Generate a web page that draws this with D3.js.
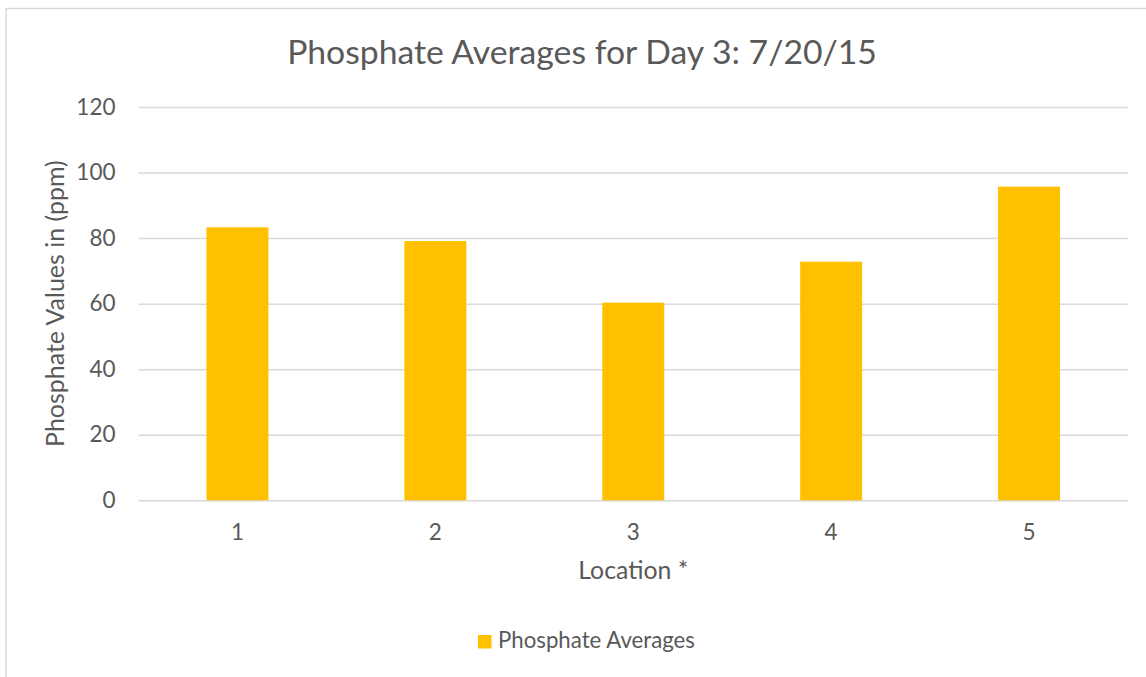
<!DOCTYPE html>
<html>
<head>
<meta charset="utf-8">
<script src="https://cdnjs.cloudflare.com/ajax/libs/d3/7.8.5/d3.min.js"></script>
<style>
  html, body { margin: 0; padding: 0; background: #ffffff; }
  svg { display: block; }
  text { font-family: Lato, "Open Sans", "Liberation Sans", sans-serif; fill: #595959; }
</style>
</head>
<body>
<svg id="chart" width="1146" height="677"></svg>
<script>
const categories = ["1", "2", "3", "4", "5"];
const values = [83.3, 79.1, 60.3, 72.8, 95.7];
const yTicks = [0, 20, 40, 60, 80, 100, 120];
const titleText = "Phosphate Averages for Day 3: 7/20/15";
const xTitle = "Location *";
const yTitle = "Phosphate Values in (ppm)";
const seriesName = "Phosphate Averages";

const W = 1146, H = 677;
const plot = { left: 138.5, right: 1128, top: 107, bottom: 500.3 };
const barColor = "#FFC000";
const gridColor = "#d9d9d9";

const svg = d3.select("#chart");

// outer chart border
svg.append("rect")
  .attr("x", 6).attr("y", 8.5)
  .attr("width", W + 20).attr("height", H + 20)
  .attr("fill", "#ffffff")
  .attr("stroke", gridColor).attr("stroke-width", 1.5);

const x = d3.scaleBand()
  .domain(categories)
  .range([plot.left, plot.right])
  .paddingInner(0.687)
  .paddingOuter(0.3435);

const y = d3.scaleLinear()
  .domain([0, 120])
  .range([plot.bottom, plot.top]);

// fit text to a target width
function fit(sel, targetWidth, startSize) {
  sel.attr("font-size", startSize);
  const w = sel.node().getComputedTextLength();
  sel.attr("font-size", startSize * targetWidth / w);
  return sel;
}

// gridlines via axis
const yAxis = d3.axisLeft(y)
  .tickValues(yTicks)
  .tickSize(-(plot.right - plot.left))
  .tickPadding(23)
  .tickFormat(d3.format("d"));

const gy = svg.append("g")
  .attr("transform", `translate(${plot.left},0)`)
  .call(yAxis);
gy.select(".domain").remove();
gy.selectAll(".tick line").attr("stroke", gridColor).attr("stroke-width", 1.5);
gy.selectAll(".tick text")
  .attr("font-size", 22.5)
  .attr("fill", "#595959")
  .style("font-family", "Lato, 'Open Sans', sans-serif");

// bars
svg.append("g").selectAll("rect")
  .data(values)
  .join("rect")
  .attr("x", (d, i) => x(categories[i]))
  .attr("width", x.bandwidth())
  .attr("y", d => y(d))
  .attr("height", d => y(0) - y(d))
  .attr("fill", barColor);

// x axis
const xAxis = d3.axisBottom(x).tickSize(0).tickPadding(24);
const gx = svg.append("g")
  .attr("transform", `translate(0,${plot.bottom})`)
  .call(xAxis);
gx.select(".domain").remove();
gx.selectAll(".tick text")
  .attr("font-size", 22.5)
  .attr("fill", "#595959")
  .style("font-family", "Lato, 'Open Sans', sans-serif");

// title
const t = svg.append("text")
  .attr("x", 582).attr("y", 64)
  .attr("text-anchor", "middle")
  .text(titleText);
fit(t, 590, 34);

// x axis title
const xt = svg.append("text")
  .attr("x", (plot.left + plot.right) / 2).attr("y", 579)
  .attr("text-anchor", "middle")
  .text(xTitle);
fit(xt, 110, 25);

// y axis title
const yt = svg.append("text")
  .attr("transform", `translate(64,${(plot.top + plot.bottom) / 2}) rotate(-90)`)
  .attr("text-anchor", "middle")
  .text(yTitle);
fit(yt, 287, 25);

// legend
const lg = svg.append("g");
lg.append("rect")
  .attr("x", 478).attr("y", 635)
  .attr("width", 13.5).attr("height", 13.5)
  .attr("fill", barColor);
const lt = lg.append("text")
  .attr("x", 498).attr("y", 648)
  .text(seriesName);
fit(lt, 197, 21);
</script>
</body>
</html>
